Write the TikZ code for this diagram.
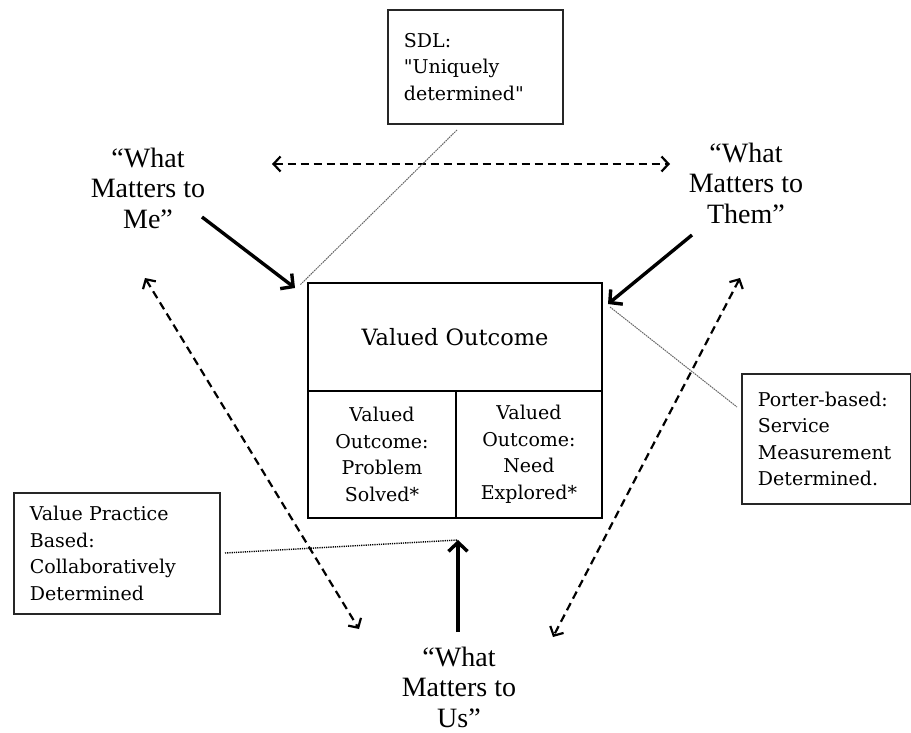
\documentclass[tikz,border=0pt]{standalone}
\usepackage{fontspec}
\setmainfont{Liberation Serif}
\newfontfamily\boxfont{DejaVu Serif}
\usetikzlibrary{arrows.meta}

\begin{document}
\begin{tikzpicture}[x=1pt,y=-1pt,
  bigtext/.style={align=center, inner sep=0pt, font=\fontsize{28}{30.5}\selectfont},
  notebox/.style={draw=black!85, line width=1.8pt, anchor=north west, align=left,
    inner xsep=16pt, inner ysep=0pt, font=\boxfont\fontsize{19}{26.5}\selectfont},
  cell/.style={draw=black, line width=2.2pt, align=center, inner sep=0pt,
    font=\boxfont\fontsize{19}{26.5}\selectfont},
  solidarrow/.style={line width=3.4pt, -{Straight Barb[length=9pt,width=19pt]}},
  dasharrow/.style={line width=2.2pt, dash pattern=on 8pt off 5pt,
    {Straight Barb[length=7pt,width=15pt]}-{Straight Barb[length=7pt,width=15pt]}},
  thinlink/.style={draw=black!60, line width=1pt, dash pattern=on 1.6pt off 0.8pt},
  dotlink/.style={draw=black, line width=1.4pt, dash pattern=on 1.2pt off 1pt}]

\useasboundingbox (0,0) rectangle (911,733);

% perspective labels
\node[bigtext] (me)   at (148,188) {``What\\Matters to\\Me''};
\node[bigtext] (them) at (746,183) {``What\\Matters to\\Them''};
\node[bigtext] (us)   at (459,687) {``What\\Matters to\\Us''};

% central outcome box and its two sub-cells
\node[cell, minimum width=294pt, minimum height=108pt, font=\boxfont\fontsize{22.5}{27}\selectfont]
  (outcome) at (455,337) {Valued Outcome};
\node[cell, minimum width=148pt, minimum height=127pt] (solved)   at (382,454.5)
  {Valued\\Outcome:\\Problem\\Solved*};
\node[cell, minimum width=146pt, minimum height=127pt] (explored) at (529,454.5)
  {Valued\\Outcome:\\Need\\Explored*};

% annotation boxes
\node[notebox, minimum width=175pt, minimum height=114pt, text width=143pt] (sdl) at (387,9)
  {SDL:\\"Uniquely\\determined"};
\node[notebox, minimum width=169pt, minimum height=130pt, text width=137pt] (porter) at (741,373)
  {Porter-based:\\Service\\Measurement\\Determined.};
\node[notebox, minimum width=206pt, minimum height=121pt, text width=174pt] (vpb) at (13,492)
  {Value Practice\\Based:\\Collaboratively\\Determined};

% connector end points
\coordinate (meTop)    at (272,164);
\coordinate (themTop)  at (670,164);
\coordinate (meTail)   at (202,217);
\coordinate (meTip)    at (295,288);
\coordinate (themTail) at (692,235);
\coordinate (themTip)  at (608,304);
\coordinate (usTail)   at (458,632);
\coordinate (usTip)    at (458,540);
\coordinate (leftUp)   at (145,278);
\coordinate (leftDown) at (359,629);
\coordinate (rightUp)  at (740,278);
\coordinate (rightDown) at (553,637);
\coordinate (sdlFoot)  at (457,130);
\coordinate (sdlEnd)   at (300,285);
\coordinate (porterA)  at (610,307);
\coordinate (porterB)  at (737,407);
\coordinate (vpbA)     at (225,553);

% influence arrows into the outcome
\draw[solidarrow] (meTail) -- (meTip);
\draw[solidarrow] (themTail) -- (themTip);
\draw[solidarrow] (usTail) -- (usTip);

% two-way relations between perspectives
\draw[dasharrow] (meTop) -- (themTop);
\draw[dasharrow] (leftUp) -- (leftDown);
\draw[dasharrow] (rightUp) -- (rightDown);

% annotation leaders
\draw[thinlink] (sdlFoot) -- (sdlEnd);
\draw[thinlink] (porterA) -- (porterB);
\draw[dotlink] (vpbA) -- (usTip);
\end{tikzpicture}
\end{document}
